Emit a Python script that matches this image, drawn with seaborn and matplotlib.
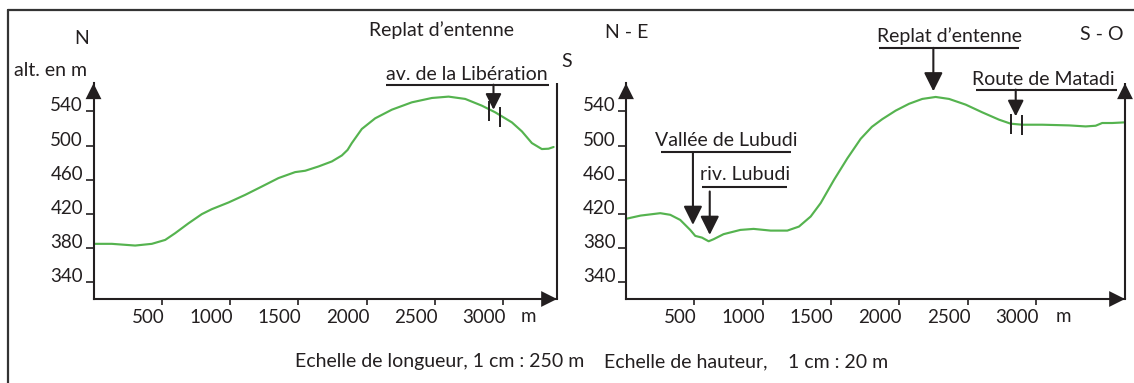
import matplotlib
matplotlib.use("Agg")
import matplotlib.pyplot as plt
import matplotlib.transforms as mtransforms
import pandas as pd
import seaborn as sns

# Topographic profile N - S (distance in m, altitude in m)
dist_ns = [0, 134, 305, 427, 525, 598, 695, 793, 866, 988, 1111, 1232, 1354,
           1476, 1550, 1647, 1745, 1818, 1860, 1891, 1964, 2062, 2184, 2330,
           2477, 2599, 2721, 2843, 2941, 3063, 3136, 3209, 3282, 3331, 3368]
alt_ns = [385, 385, 383, 385, 389.6, 397.5, 409, 419.8, 425.6, 433.4, 442.4,
          452.1, 462, 469, 470.6, 475.6, 481.5, 488.5, 495, 503, 519.5, 532,
          542.1, 550.7, 555.8, 557.4, 554.7, 546.8, 539, 527.2, 516.7, 503,
          496, 496.4, 498.4]

# Topographic profile N-E - S-O
dist_neso = [0, 107, 251, 324, 397, 470, 507, 556, 605, 641, 714, 837, 934,
             1059, 1181, 1266, 1352, 1425, 1523, 1620, 1718, 1800, 1876, 1974,
             2072, 2169, 2267, 2365, 2487, 2608, 2731, 2816, 2901, 3048, 3243,
             3365, 3438, 3486, 3560, 3645]
alt_neso = [414.3, 418.1, 420.9, 419, 413, 401.3, 394.3, 392.3, 388, 390.4,
            396.3, 401.3, 402.5, 400.5, 400.5, 405.2, 417, 432.7, 460, 485,
            508, 522, 531, 541, 549, 554.7, 557, 554.7, 548, 539, 530.4,
            525.7, 524.5, 524.5, 523.7, 522.5, 523.3, 526.5, 526.5, 527.2]

# Road crossings marked on the profiles
lib_marks_x = [2892, 2977]
lib_marks_alt = [541, 534]
matadi_marks_x = [2816, 2897]
matadi_marks_alt = [525.5, 524.5]

alt_ticks = [340, 380, 420, 460, 500, 540]
dist_ticks = [500, 1000, 1500, 2000, 2500, 3000]
alt_tick_labels = [str(v) for v in alt_ticks]
dist_tick_labels = [str(v) for v in dist_ticks]

W, H, DPI = 1134, 383, 100
INK = "#231f20"
GREEN = "#55b34f"
FS = 14
TICK_FS = 13.5

sns.set_theme(style="ticks")
plt.rcParams["font.family"] = ["Lato", "DejaVu Sans"]
plt.rcParams["text.color"] = INK

fig = plt.figure(figsize=(W / DPI, H / DPI), dpi=DPI)
fig.patch.set_facecolor("white")


def fx(x):
    return x / W


def fy(y):
    return 1 - y / H


# frame around the figure
fig.add_artist(plt.Line2D([fx(8), fx(W)], [fy(10), fy(10)], color="#333333", lw=1.6))
fig.add_artist(plt.Line2D([fx(8), fx(8)], [fy(10), fy(H + 5)], color="#333333", lw=1.6))

ax_l = fig.add_axes([fx(93.5), fy(299), (557 - 93.5) / W, (299 - 83.3) / H])
ax_r = fig.add_axes([fx(626), fy(299), (1125 - 626) / W, (299 - 83.3) / H])

HEAD = "-|>,head_length=0.6,head_width=0.3"


def axis_arrow(ax, start, end):
    ax.annotate("", xy=end, xytext=start, xycoords="axes fraction",
                textcoords="axes fraction", annotation_clip=False,
                arrowprops=dict(arrowstyle=HEAD, mutation_scale=19, color=INK,
                                lw=0, shrinkA=0, shrinkB=0))


def style_axes(ax, xmax, right_arrow):
    ax.set_xlim(0, xmax)
    ax.set_ylim(320.4, 573)
    ax.set_facecolor("none")
    for s in ("top", "right"):
        ax.spines[s].set_visible(False)
    for s in ("left", "bottom"):
        ax.spines[s].set_color(INK)
        ax.spines[s].set_linewidth(1.5)
    # closing vertical line on the right side of the profile
    ax.plot([1, 1], [0, 1], transform=ax.transAxes, color=INK, lw=1.5,
            clip_on=False, solid_capstyle="butt")
    ax.set_xticks(dist_ticks, dist_tick_labels)
    ax.set_yticks(alt_ticks, alt_tick_labels)
    ax.tick_params(axis="y", direction="out", length=6, width=1.2, color=INK,
                   pad=1.5, labelsize=TICK_FS, labelcolor=INK, left=True,
                   right=False)
    ax.tick_params(axis="x", direction="out", length=4.5, width=1.2, color=INK,
                   pad=3, labelsize=TICK_FS, labelcolor=INK, bottom=True,
                   top=False)
    plt.setp(ax.get_yticklabels(), va="baseline")
    shift = mtransforms.ScaledTranslation(2 / 72, 0, fig.dpi_scale_trans)
    for lab in ax.get_xticklabels():
        lab.set_ha("right")
        lab.set_transform(lab.get_transform() + shift)
    ax.set_xlabel("")
    ax.set_ylabel("")
    ax.grid(False)
    axis_arrow(ax, (0, 0.92), (0, 1))
    axis_arrow(ax, (0.95, 0), (1, 0))
    if right_arrow:
        axis_arrow(ax, (1, 0.92), (1, 1))


def callout(ax, label, text_xy, line_x, line_alt, arrow_x, tip_alt,
            start_alt=None, scale=19):
    ax.text(text_xy[0], text_xy[1], label, ha="center", va="center",
            fontsize=FS, color=INK, clip_on=False)
    ax.plot(line_x, [line_alt, line_alt], color=INK, lw=1.5, clip_on=False,
            solid_capstyle="butt")
    if start_alt is None:
        start_alt = line_alt
    ax.annotate("", xy=(arrow_x, tip_alt), xytext=(arrow_x, start_alt),
                annotation_clip=False,
                arrowprops=dict(arrowstyle=HEAD, mutation_scale=scale,
                                color=INK, lw=1.5, shrinkA=0, shrinkB=0))


ns = pd.DataFrame({"distance": dist_ns, "altitude": alt_ns})
neso = pd.DataFrame({"distance": dist_neso, "altitude": alt_neso})

for ax, df in ((ax_l, ns), (ax_r, neso)):
    sns.lineplot(data=df, x="distance", y="altitude", ax=ax, color=GREEN,
                 lw=1.55, sort=False, estimator=None)
    for line in ax.get_lines():
        line.set_solid_joinstyle("round")
        line.set_solid_capstyle("round")

ax_l.plot(lib_marks_x, lib_marks_alt, ls="none", marker="|", ms=14, mew=1.4,
          color=INK, clip_on=False)
ax_r.plot(matadi_marks_x, matadi_marks_alt, ls="none", marker="|", ms=14,
          mew=1.4, color=INK, clip_on=False)

style_axes(ax_l, 3393, right_arrow=False)
style_axes(ax_r, 3653, right_arrow=True)

# callouts on the N - S profile
callout(ax_l, "av. de la Libération", (2734, 583.2), (2138, 3331), 571.4,
        2928, 542, scale=16)

# callouts on the N-E - S-O profile
callout(ax_r, "Replat d\u2019entenne", (2365, 628), (1852, 2877), 614.5,
        2250, 563.6)
callout(ax_r, "Route de Matadi", (3053, 577.3), (2560, 3594), 565.6,
        2853, 534.3, scale=16)
callout(ax_r, "Vallée de Lubudi", (732, 506.1), (254, 1206), 492,
        490, 407.2)
callout(ax_r, "riv. Lubudi", (871, 465.9), (556, 1179), 451.4,
        613, 395.5, start_alt=446.3)

# orientation and axis labels
fig.text(fx(81.7), fy(39), "N", ha="center", va="center", fontsize=FS)
fig.text(fx(50), fy(70), "alt. en m", ha="center", va="center", fontsize=FS)
fig.text(fx(441.7), fy(30), "Replat d\u2019entenne", ha="center", va="center",
         fontsize=FS)
fig.text(fx(566.7), fy(61.7), "S", ha="center", va="center", fontsize=FS)
fig.text(fx(627), fy(33), "N - E", ha="center", va="center", fontsize=FS)
fig.text(fx(1101.7), fy(34), "S - O", ha="center", va="center", fontsize=FS)
fig.text(fx(528), fy(316), "m", ha="center", va="center", fontsize=TICK_FS)
fig.text(fx(1063), fy(316), "m", ha="center", va="center", fontsize=TICK_FS)

# scales
fig.text(fx(295), fy(362), "Echelle de longueur, 1 cm : 250 m", ha="left",
         va="center", fontsize=FS)
fig.text(fx(604), fy(362), "Echelle de hauteur,", ha="left", va="center",
         fontsize=FS)
fig.text(fx(788), fy(362), "1 cm : 20 m", ha="left", va="center", fontsize=FS)

fig.savefig("out.png", dpi=DPI, facecolor="white")
